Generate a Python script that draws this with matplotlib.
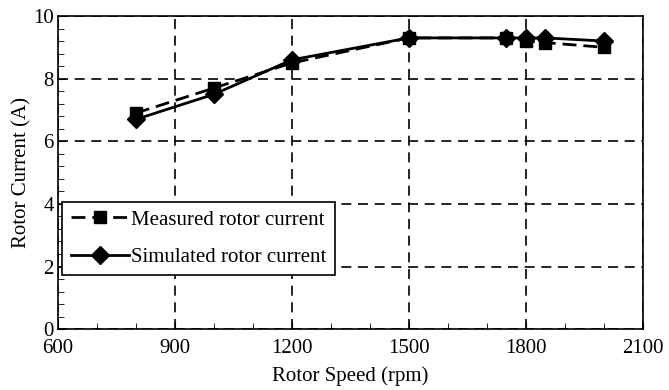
import matplotlib
matplotlib.use("Agg")
import matplotlib.pyplot as plt
from matplotlib.ticker import MultipleLocator

speed = [800, 1000, 1200, 1500, 1750, 1800, 1850, 2000]
measured = [6.9, 7.7, 8.5, 9.3, 9.3, 9.2, 9.15, 9.0]
simulated = [6.7, 7.5, 8.6, 9.3, 9.3, 9.3, 9.3, 9.2]

plt.rcParams['font.family'] = ['Liberation Serif', 'DejaVu Serif']
fig = plt.figure(figsize=(6.69, 3.9), dpi=100)
ax = fig.add_axes([0.0867, 0.156, 0.874, 0.803])

ax.plot(speed, measured, color='black', linestyle=(0, (5, 2.5)), linewidth=2,
        marker='s', markersize=8, label='Measured rotor current')
ax.plot(speed, simulated, color='black', linestyle='-', linewidth=2,
        marker='D', markersize=9, label='Simulated rotor current')

ax.set_xlim(600, 2100)
ax.set_ylim(0, 10)
ax.xaxis.set_major_locator(MultipleLocator(300))
ax.xaxis.set_minor_locator(MultipleLocator(100))
ax.yaxis.set_major_locator(MultipleLocator(2))
ax.yaxis.set_minor_locator(MultipleLocator(0.4))
ax.tick_params(which='both', direction='in', labelsize=15, color='black')
ax.tick_params(which='major', length=5)
ax.tick_params(which='minor', length=4)
ax.tick_params(axis='x', pad=7)
ax.tick_params(axis='y', pad=3)
ax.grid(True, which='major', color='black', linestyle=(0, (6, 4)), linewidth=1.2)
for s in ax.spines.values():
    s.set_linewidth(1.2)

ax.set_xlabel('Rotor Speed (rpm)', fontsize=15, labelpad=6)
ax.set_ylabel('Rotor Current (A)', fontsize=15, labelpad=1)

leg = ax.legend(loc='upper left', bbox_to_anchor=(0.0, 0.42), fontsize=15,
                frameon=True, fancybox=False, edgecolor='black', framealpha=1,
                handlelength=2.8, handletextpad=0.1, borderpad=0.4, labelspacing=0.85,
                borderaxespad=0.2)
leg.get_frame().set_linewidth(1.2)

fig.savefig('out.png', dpi=100)
